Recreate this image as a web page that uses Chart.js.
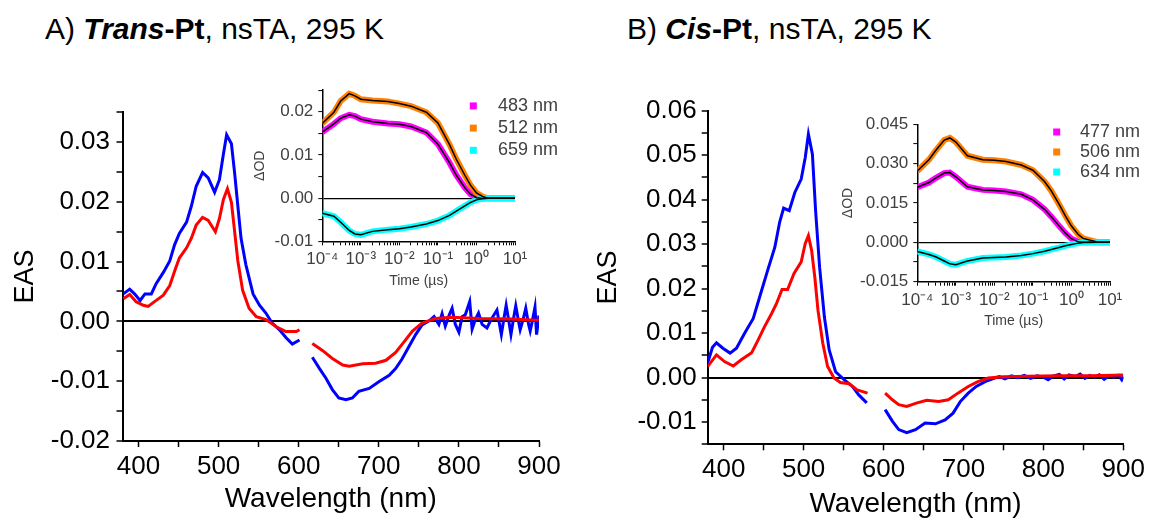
<!DOCTYPE html>
<html lang="en">
<head>
<meta charset="UTF-8">
<title>EAS nsTA Trans-Pt / Cis-Pt</title>
<script src="https://cdn.jsdelivr.net/npm/chart.js"></script>
<style>
  body { margin:0; background:#fff; width:1149px; height:521px; position:relative; overflow:hidden;
         font-family:'Liberation Sans', Arial, sans-serif; }
  canvas { position:absolute; }
  .ttl { position:absolute; font-size:30px; line-height:30px; color:#000; white-space:nowrap; }
</style>
</head>
<body>
<div class="ttl" style="left:45px;top:14px">A) <b><i>Trans</i>-Pt</b>, nsTA, 295 K</div>
<div class="ttl" style="left:627px;top:14px">B) <b><i>Cis</i>-Pt</b>, nsTA, 295 K</div>
<canvas id="mainA" width="566" height="431" style="left:0;top:90px"></canvas>
<canvas id="mainB" width="569" height="431" style="left:580px;top:90px"></canvas>
<canvas id="insetA" width="315" height="225" style="left:245px;top:75px"></canvas>
<canvas id="insetB" width="319" height="235" style="left:830px;top:100px"></canvas>
<script>
// ---- panel A, EAS spectra (null = gap around the pump wavelength) ----
var wlA_blue = [381,389,395,402,408,416,422,431,439,445,451,460,466,472,480,487,495,501,506,510,516,520,524,528,534,543,551,559,567,576,584,592,601,
  608,617,626,634,642,650,659,667,675,688,700,713,721,729,738,746,754,764,
  769,775,779,783,788,791.5,795.5,800,804,808,813.5,816.5,820.5,824.5,829,835,841,847.5,853,856,859,862,865,868,871,874.5,876.5,880.5,883.5,887,889,892,895,897,900];
var easA_blue = [0.0046,0.0054,0.0046,0.0035,0.0046,0.0046,0.0063,0.0082,0.0101,0.0128,0.0147,0.0166,0.0193,0.0226,0.0249,0.0240,0.0216,0.0237,0.0280,0.0312,0.0297,0.0248,0.0193,0.0139,0.0095,0.0046,0.0027,0.0014,-0.0003,-0.0014,-0.0027,-0.0038,-0.0031,
  null,-0.0060,-0.0079,-0.0095,-0.0114,-0.0128,-0.0131,-0.0128,-0.0117,-0.0112,-0.0101,-0.0090,-0.0079,-0.0063,-0.0041,-0.0022,-0.0006,0.0002,
  0.0008,-0.0005,0.0013,-0.0008,0.0011,0.0022,-0.0005,-0.0018,0.0008,0.0011,0.0033,-0.0013,0.0003,0.0014,-0.0005,-0.0011,0.0005,0.0019,-0.0022,0.0003,0.0027,0.0003,-0.0022,0.0003,0.0026,0.0000,-0.0014,0.0005,0.0022,-0.0005,-0.0016,0.0003,0.0024,-0.0022,0.0010];
var wlA_red = [381,389,397,406,412,420,431,439,445,451,460,466,472,480,487,496,501,506,511,516,520,524,530,538,547,559,572,584,597,601,
  608,617,630,642,655,663,680,696,709,721,731,742,754,771,791,825,866,897,900];
var easA_red = [0.0038,0.0045,0.0033,0.0027,0.0025,0.0033,0.0044,0.0060,0.0084,0.0106,0.0123,0.0139,0.0161,0.0174,0.0169,0.0150,0.0172,0.0204,0.0222,0.0199,0.0150,0.0101,0.0052,0.0022,0.0008,0.0003,-0.0009,-0.0017,-0.0017,-0.0014,
  null,-0.0037,-0.0049,-0.0062,-0.0073,-0.0075,-0.0071,-0.0070,-0.0065,-0.0052,-0.0035,-0.0016,-0.0003,0.0005,0.0007,0.0005,0.0004,0.0002,0.0003];

// ---- panel B, EAS spectra ----
var wlB_blue = [380,386,391,399,408,416,426,437,445,455,464,470,475,482,489,497,502,506,511,515,520,526,532,540,551,561,569,579,
  590,602,611,619,629,640,652,665,677,687,696,706,716,727,739,745,752,760,768,776,784,792,800,806,812,820,826,832,840,846,852,858,864,870,876,882,888,894,898,900];
var easB_blue = [0.0033,0.0068,0.0078,0.0066,0.0055,0.0066,0.0099,0.0133,0.0181,0.0241,0.0293,0.0349,0.0381,0.0375,0.0416,0.0446,0.0494,0.0547,0.0502,0.0375,0.0248,0.0136,0.0062,0.0013,-0.0005,-0.0020,-0.0039,-0.0057,
  null,-0.0072,-0.0098,-0.0117,-0.0124,-0.0117,-0.0102,-0.0104,-0.0095,-0.0080,-0.0054,-0.0035,-0.0020,-0.0009,-0.0001,0.0002,-0.0003,0.0004,0.0000,0.0005,-0.0002,0.0004,0.0001,-0.0005,0.0003,0.0007,-0.0003,0.0006,0.0002,0.0008,-0.0002,0.0005,0.0001,0.0006,-0.0004,0.0004,0.0001,0.0005,-0.0005,0.0003];
var wlB_red = [380,391,401,412,422,435,443,451,460,466,473,480,488,497,502,506,510,514,518,524,530,538,546,557,567,580,
  591,602,611,619,629,642,654,669,681,693,706,718,731,750,780,820,860,900];
var easB_red = [0.0025,0.0051,0.0036,0.0026,0.0040,0.0056,0.0084,0.0114,0.0144,0.0166,0.0198,0.0198,0.0234,0.0260,0.0301,0.0319,0.0286,0.0226,0.0151,0.0077,0.0025,-0.0001,-0.0011,-0.0014,-0.0028,-0.0035,
  null,-0.0035,-0.0050,-0.0061,-0.0065,-0.0057,-0.0051,-0.0054,-0.0050,-0.0035,-0.0020,-0.0009,-0.0001,0.0002,0.0003,0.0004,0.0004,0.0006];

// ---- insets, kinetics (time in µs) ----
var timeUs = [1e-4,2e-4,3e-4,5e-4,7e-4,1e-3,2e-3,5e-3,1e-2,2e-2,5e-2,0.1,0.2,0.3,0.5,0.7,1,1.5,2,5,10];
var kinA_483 = [0.0153,0.0172,0.0185,0.0193,0.0190,0.0183,0.0177,0.0173,0.0171,0.0166,0.0152,0.0125,0.0082,0.0053,0.0024,0.0009,0.0001,-0.0001,0,0,0];
var kinA_512 = [0.0173,0.0199,0.0225,0.0242,0.0237,0.0229,0.0226,0.0224,0.0219,0.0213,0.0199,0.0174,0.0124,0.0090,0.0053,0.0030,0.0012,0.0003,0,0,0];
var kinA_659 = [-0.0035,-0.0042,-0.0056,-0.0075,-0.0083,-0.0085,-0.0077,-0.0073,-0.0071,-0.0067,-0.0060,-0.0052,-0.0040,-0.0030,-0.0018,-0.0010,-0.0004,-0.0001,0,0,0];
var kinB_477 = [0.0210,0.0228,0.0245,0.0264,0.0266,0.0250,0.0212,0.0200,0.0198,0.0194,0.0183,0.0162,0.0126,0.0098,0.0059,0.0035,0.0014,0.0002,0,0,0];
var kinB_506 = [0.0272,0.0315,0.0350,0.0390,0.0398,0.0382,0.0330,0.0315,0.0313,0.0308,0.0295,0.0275,0.0232,0.0196,0.0140,0.0100,0.0062,0.0030,0.0015,0,0];
var kinB_634 = [-0.0035,-0.0046,-0.0055,-0.0071,-0.0082,-0.0085,-0.0071,-0.0060,-0.0058,-0.0056,-0.0050,-0.0043,-0.0034,-0.0027,-0.0019,-0.0013,-0.0008,-0.0003,-0.0001,0,0];
var legendA = ['483 nm','512 nm','659 nm'];
var legendB = ['477 nm','506 nm','634 nm'];

// ---- ticks ----
var mainXTicks = [400,450,500,550,600,650,700,750,800,850,900];
var mainAYTicks = [-0.02,-0.015,-0.01,-0.005,0,0.005,0.01,0.015,0.02,0.025,0.03,0.035];
var mainBYTicks = [-0.015,-0.01,-0.005,0,0.005,0.01,0.015,0.02,0.025,0.03,0.035,0.04,0.045,0.05,0.055,0.06];
var insetAYTicks = [-0.01,-0.005,0,0.005,0.01,0.015,0.02,0.025];
var insetBYTicks = [-0.015,-0.0075,0,0.0075,0.015,0.0225,0.03,0.0375,0.045];
var timeTicks = [];
for (var e = -4; e <= 1; e++) for (var m = 1; m <= 9; m++) { if (e === 1 && m > 1) break; timeTicks.push(m * Math.pow(10, e)); }

var FONT = "'Liberation Sans', Arial, sans-serif";
Chart.defaults.font.family = FONT;
var GREY = '#404040';
var SUP = {'-':'\u207B','0':'\u2070','1':'\u00B9','2':'\u00B2','3':'\u00B3','4':'\u2074'};

function xy(xs, ys) { return xs.map(function (x, i) { return {x: x, y: ys[i]}; }); }
function setTicks(arr) { return function (s) { s.ticks = arr.map(function (v) { return {value: v}; }); }; }
function mult(v, step) { return Math.abs(v / step - Math.round(v / step)) < 1e-6; }
function zeroGrid(w) {
  return {
    color: function (c) { return c.tick && Math.abs(c.tick.value) < 1e-9 ? '#000' : 'rgba(0,0,0,0)'; },
    lineWidth: w, tickColor: '#000', tickLength: 6, tickWidth: 1.5
  };
}

// inset legend drawn inside the plot, top right
var insetLegend = {
  id: 'insetLegend',
  afterDraw: function (chart, args, o) {
    var ctx = chart.ctx, a = chart.chartArea;
    var sets = chart.data.datasets.filter(function (d) { return d.legendText; });
    ctx.save();
    ctx.font = '18px ' + FONT;
    ctx.textBaseline = 'middle';
    sets.forEach(function (d, i) {
      var x = a.right - o.right, y = a.top + o.top + i * o.step;
      ctx.fillStyle = d.borderColor;
      ctx.fillRect(x - 3.5, y - 3.5, 7, 7);
      ctx.fillStyle = GREY;
      ctx.fillText(d.legendText, x + o.gap, y);
    });
    ctx.restore();
  }
};

function mainChart(id, blueX, blueY, redX, redY, yMin, yMax, yTicks, lay) {
  return new Chart(document.getElementById(id), {
    type: 'line',
    data: {
      datasets: [
        {data: xy(redX, redY), borderColor: '#ff0000', borderWidth: 3, pointRadius: 0, spanGaps: false, order: 0},
        {data: xy(blueX, blueY), borderColor: '#0000ff', borderWidth: 3, pointRadius: 0, spanGaps: false, order: 1}
      ]
    },
    options: {
      responsive: false, animation: false, events: [],
      layout: {padding: {top: lay.top, right: lay.right, bottom: 0, left: 0}},
      plugins: {legend: {display: false}, tooltip: {enabled: false}},
      scales: {
        x: {
          type: 'linear', min: 380, max: 900,
          afterBuildTicks: setTicks(mainXTicks),
          afterFit: function (s) { s.height = lay.xh; },
          ticks: {autoSkip: false, maxRotation: 0, color: '#000', font: {size: 26}, padding: 4,
                  callback: function (v) { return v % 100 === 0 ? String(v) : ''; }},
          grid: {drawOnChartArea: false, tickColor: '#000', tickLength: 6, tickWidth: 1.5},
          border: {color: '#000', width: 2},
          title: {display: true, text: 'Wavelength (nm)', color: '#000', font: {size: 28}, padding: {top: 0, bottom: lay.xtp}}
        },
        y: {
          min: yMin, max: yMax,
          afterBuildTicks: setTicks(yTicks),
          afterFit: function (s) { s.width = lay.yw; },
          ticks: {autoSkip: false, color: '#000', font: {size: 26}, padding: lay.ytp,
                  callback: function (v) { return mult(v, 0.01) ? v.toFixed(2) : ''; }},
          grid: zeroGrid(2),
          border: {color: '#000', width: 2},
          title: {display: true, text: 'EAS', color: '#000', font: {size: 27}, padding: {top: lay.ytitle, bottom: 0}}
        }
      }
    }
  });
}

function insetChart(id, series, labels, yMin, yMax, yTicks, yStep, yDec, lay) {
  var cols = ['#ff00ff', '#ff8000', '#00ffff'];
  var ds = [];
  series.forEach(function (s) {
    ds.push({data: xy(timeUs, s), borderColor: '#000', borderWidth: 1.5, pointRadius: 0, order: 0});
  });
  series.forEach(function (s, i) {
    ds.push({data: xy(timeUs, s), legendText: labels[i], borderColor: cols[i], borderWidth: 6,
             pointRadius: 0, order: i === 2 ? 1 : 3 - i});
  });
  return new Chart(document.getElementById(id), {
    type: 'line',
    data: {datasets: ds},
    plugins: [insetLegend],
    options: {
      responsive: false, animation: false, events: [],
      layout: {padding: {top: lay.top, right: lay.right, bottom: 0, left: 0}},
      plugins: {legend: {display: false}, tooltip: {enabled: false}, insetLegend: lay.legend},
      scales: {
        x: {
          type: 'logarithmic', min: 1e-4, max: 10,
          afterBuildTicks: setTicks(timeTicks),
          afterFit: function (s) { s.height = lay.xh; },
          ticks: {autoSkip: false, maxRotation: 0, color: GREY, font: {size: 17}, padding: 4,
                  callback: function (v) {
                    var l = Math.log10(v), r = Math.round(l);
                    if (Math.abs(l - r) > 1e-6) return '';
                    return '10' + String(r).split('').map(function (c) { return SUP[c]; }).join('');
                  }},
          grid: {drawOnChartArea: false, tickColor: '#000', tickLength: 4, tickWidth: 1},
          border: {color: '#000', width: 1.5},
          title: {display: true, text: 'Time (\u00B5s)', color: GREY, font: {size: 14}, padding: {top: 0, bottom: lay.xtp}}
        },
        y: {
          min: yMin, max: yMax,
          afterBuildTicks: setTicks(yTicks),
          afterFit: function (s) { s.width = lay.yw; },
          ticks: {autoSkip: false, color: GREY, font: {size: 17}, padding: 5,
                  callback: function (v) { return mult(v, yStep) ? v.toFixed(yDec) : ''; }},
          grid: {color: function (c) { return c.tick && Math.abs(c.tick.value) < 1e-9 ? '#000' : 'rgba(0,0,0,0)'; },
                 lineWidth: 1.2, tickColor: '#000', tickLength: 4, tickWidth: 1},
          border: {color: '#000', width: 1.5},
          title: {display: true, text: '\u0394OD', color: GREY, font: {size: 14}, padding: {top: lay.ytitle, bottom: 0}}
        }
      }
    }
  });
}

mainChart('mainA', wlA_blue, easA_blue, wlA_red, easA_red, -0.02, 0.035, mainAYTicks,
  {top: 14, right: 27, xh: 80, yw: 122.5, xtp: 5, ytp: 6.5, ytitle: 9});
mainChart('mainB', wlB_blue, easB_blue, wlB_red, easB_red, -0.015, 0.06, mainBYTicks,
  {top: 19.3, right: 24, xh: 76.7, yw: 127.7, xtp: 0, ytp: 5, ytitle: 12});
insetChart('insetA', [kinA_483, kinA_512, kinA_659], legendA, -0.01, 0.025, insetAYTicks, 0.01, 2,
  {top: 10, right: 45, xh: 58.7, yw: 77.3, xtp: 10, ytitle: 7, legend: {right: 41.7, top: 15.7, step: 22.2, gap: 24.7}});
insetChart('insetB', [kinB_477, kinB_506, kinB_634], legendB, -0.015, 0.045, insetBYTicks, 0.015, 3,
  {top: 24.3, right: 39, xh: 53.3, yw: 87.3, xtp: 5, ytitle: 10, legend: {right: 53.3, top: 7.7, step: 20, gap: 23.3}});
</script>
</body>
</html>
